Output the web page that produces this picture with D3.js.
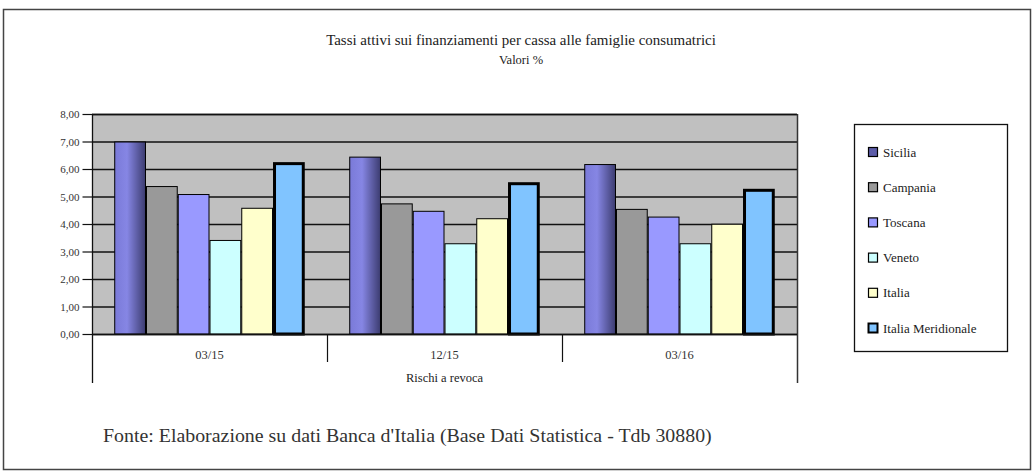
<!DOCTYPE html>
<html><head><meta charset="utf-8">
<script src="https://cdn.jsdelivr.net/npm/d3@7"></script>
<style>body{margin:0;background:#fff}svg{display:block}text{font-family:"Liberation Serif","DejaVu Serif","Times New Roman",serif}</style>
</head><body>
<script>
const categories = ["03/15", "12/15", "03/16"];
const seriesNames = ["Sicilia", "Campania", "Toscana", "Veneto", "Italia", "Italia Meridionale"];
const sicilia = [7.00, 6.45, 6.18];
const campania = [5.38, 4.75, 4.55];
const toscana = [5.09, 4.48, 4.27];
const veneto = [3.42, 3.30, 3.30];
const italia = [4.59, 4.21, 4.01];
const meridionale = [6.25, 5.52, 5.28];
const yTicks = [0, 1, 2, 3, 4, 5, 6, 7, 8];
const seriesValues = [sicilia, campania, toscana, veneto, italia, meridionale];
const colors = ["url(#gradSic)", "#999999", "#9999ff", "#ccffff", "#ffffcc", "#80c4ff"];

const W = 1033, H = 476;
const svg = d3.select("body").append("svg").attr("width", W).attr("height", H);
const defs = svg.append("defs");
const g1 = defs.append("linearGradient").attr("id", "gradSic").attr("x1", 0).attr("x2", 1).attr("y1", 0).attr("y2", 0);
g1.append("stop").attr("offset", "0%").attr("stop-color", "#7a7ad8");
g1.append("stop").attr("offset", "40%").attr("stop-color", "#8686e4");
g1.append("stop").attr("offset", "100%").attr("stop-color", "#3c3c70");

// outer frame
svg.append("rect").attr("x", 3.5).attr("y", 9.5).attr("width", 1027).attr("height", 460)
  .attr("fill", "none").attr("stroke", "#444").attr("stroke-width", 1.5);

function fitText(sel, target) {
  const n = sel.node();
  const w = n.getComputedTextLength();
  const fs = parseFloat(sel.attr("font-size"));
  sel.attr("font-size", fs * target / w);
}

// title
const t1 = svg.append("text").attr("x", 521).attr("y", 45).attr("text-anchor", "middle")
  .attr("font-size", 12).attr("fill", "#222")
  .text("Tassi attivi sui finanziamenti per cassa alle famiglie consumatrici");
fitText(t1, 390);
svg.append("text").attr("x", 521).attr("y", 64).attr("text-anchor", "middle")
  .attr("font-size", 12.5).attr("fill", "#222").text("Valori %");

const L = 92, R = 797, T = 114, B = 334;
const x0 = d3.scaleBand().domain(categories).range([L, R]).paddingInner(0).paddingOuter(0);
const x1 = d3.scaleBand().domain(seriesNames).range([0, x0.bandwidth()]).paddingOuter(0.7);
const y = d3.scaleLinear().domain([0, 8]).range([B, T]);

// plot background
svg.append("rect").attr("x", L).attr("y", T).attr("width", R - L).attr("height", B - T).attr("fill", "#c0c0c0");

// gridlines
svg.append("g").selectAll("line").data(yTicks).join("line")
  .attr("x1", L).attr("x2", R).attr("y1", d => y(d) + 0.5).attr("y2", d => y(d) + 0.5)
  .attr("stroke", "#111").attr("stroke-width", 1.3);

// bars
const groups = svg.append("g").selectAll("g").data(categories).join("g")
  .attr("transform", d => `translate(${x0(d)},0)`);
groups.selectAll("rect").data((c, ci) => seriesNames.map((s, si) => ({ s, si, v: seriesValues[si][ci] })))
  .join("rect")
  .attr("x", d => x1(d.s) + (d.si === 5 ? 1.5 : 0.5))
  .attr("width", d => x1.bandwidth() - (d.si === 5 ? 3 : 1))
  .attr("y", d => y(d.v) + (d.si === 5 ? 1.5 : 0.5))
  .attr("height", d => B - y(d.v) - (d.si === 5 ? 1.5 : 0.5))
  .attr("fill", d => colors[d.si])
  .attr("stroke", "#000")
  .attr("stroke-width", d => d.si === 5 ? 3 : 1);

// plot border top/right
svg.append("line").attr("x1", L).attr("x2", R).attr("y1", T + 0.5).attr("y2", T + 0.5).attr("stroke", "#111").attr("stroke-width", 1.5);
svg.append("line").attr("x1", R + 0.5).attr("x2", R + 0.5).attr("y1", T).attr("y2", 383).attr("stroke", "#333").attr("stroke-width", 1.5);

// y axis
const yAxis = d3.axisLeft(y).tickValues(yTicks).tickSize(10).tickPadding(3)
  .tickFormat(d => d3.format(".2f")(d).replace(".", ","));
const ya = svg.append("g").attr("transform", `translate(${L + 0.5},0)`).call(yAxis);
ya.attr("font-family", null);
ya.select(".domain").attr("d", `M0,${T}V383`).attr("stroke", "#111").attr("stroke-width", 1.3);
ya.selectAll(".tick line").attr("stroke", "#111").attr("stroke-width", 1.2);
ya.selectAll(".tick text").attr("font-size", 11).attr("fill", "#333");

// x axis
svg.append("line").attr("x1", L).attr("x2", R).attr("y1", B + 0.5).attr("y2", B + 0.5).attr("stroke", "#111").attr("stroke-width", 1.3);
const xAxis = d3.axisBottom(x0).tickSize(0).tickPadding(16);
const xa = svg.append("g").attr("transform", `translate(0,${B})`).call(xAxis);
xa.attr("font-family", null);
xa.select(".domain").remove();
xa.selectAll(".tick text").attr("font-size", 12.5).attr("fill", "#333");
svg.append("g").selectAll("line").data(categories.slice(1)).join("line")
  .attr("x1", d => x0(d) + 0.5).attr("x2", d => x0(d) + 0.5).attr("y1", B).attr("y2", 362)
  .attr("stroke", "#111").attr("stroke-width", 1.2);
svg.append("text").attr("x", (L + R) / 2).attr("y", 382).attr("text-anchor", "middle")
  .attr("font-size", 12.5).attr("fill", "#222").text("Rischi a revoca");

// legend
svg.append("rect").attr("x", 854.5).attr("y", 124.5).attr("width", 153).attr("height", 227)
  .attr("fill", "#fff").attr("stroke", "#111").attr("stroke-width", 1.3);
const ly = d3.scalePoint().domain(seriesNames).range([152, 328]);
const li = svg.append("g").selectAll("g").data(seriesNames).join("g")
  .attr("transform", d => `translate(868,${ly(d)})`);
li.append("rect").attr("x", 0.5).attr("y", -4.5).attr("width", 9).attr("height", 9)
  .attr("fill", (d, i) => i === 0 ? "#5c5ca8" : colors[i]).attr("stroke", "#000").attr("stroke-width", (d, i) => i === 5 ? 2 : 1.2);
li.append("text").attr("x", 15).attr("y", 4.5).attr("font-size", 13).attr("fill", "#222").text(d => d);

// footer
const ft = svg.append("text").attr("x", 103).attr("y", 442)
  .attr("font-size", 16).attr("fill", "#333")
  .text("Fonte: Elaborazione su dati Banca d'Italia (Base Dati Statistica - Tdb 30880)");
fitText(ft, 609);
</script>
</body></html>
